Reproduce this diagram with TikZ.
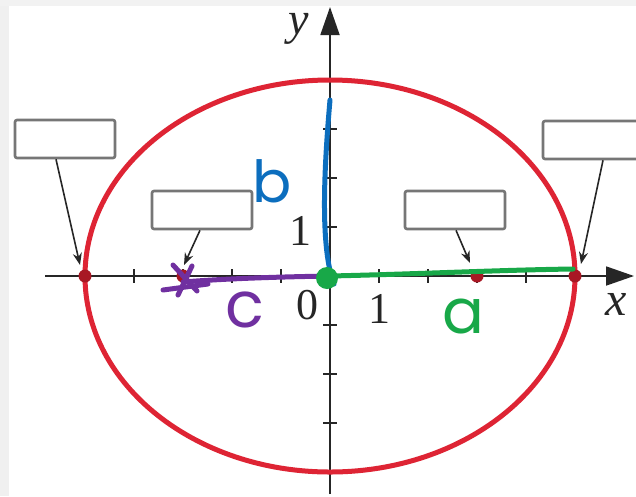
\documentclass[tikz,border=0pt]{standalone}
\usepackage{fontspec}
\setmainfont{Liberation Serif}
\newfontfamily\handfont{Poppins}
\usetikzlibrary{arrows.meta}
\definecolor{ellred}{RGB}{222,36,52}
\definecolor{dotred}{RGB}{168,24,36}
\definecolor{hblue}{RGB}{12,110,190}
\definecolor{hgreen}{RGB}{24,168,72}
\definecolor{hpurple}{RGB}{112,48,160}
\definecolor{boxgray}{RGB}{118,118,118}
\definecolor{axgray}{RGB}{38,38,38}
\tikzset{
 axisline/.style={draw=axgray, line width=1.8pt, -{Triangle[length=28pt,width=19pt]}},
 tickline/.style={draw=axgray, line width=1.8pt},
 lbl/.style={font=\fontsize{44}{44}\selectfont, inner sep=0pt, text=axgray},
 emptybox/.style={draw=boxgray, line width=2.6pt, fill=white, rounded corners=2pt, minimum width=100pt, minimum height=38pt, inner sep=0pt},
 pointer/.style={draw=axgray, line width=1.6pt, -{Stealth[length=12pt,width=9pt]}},
 vtx/.style={circle, fill=dotred, inner sep=0pt, minimum size=13pt},
 handline/.style={line width=5pt, line cap=round, line join=round},
 handtext/.style={font=\handfont\fontsize{#1}{#1}\selectfont, inner sep=0pt},
}
\begin{document}
\begin{tikzpicture}[x=1pt,y=-1pt]
\useasboundingbox (0,0) rectangle (636,496);
\clip (0,0) rectangle (636,496);
\fill[white] (0,0) rectangle (636,496);
\fill[black!6] (0,0) rectangle (9,496);
\fill[black!5] (0,0) rectangle (636,6);
% axes
\coordinate (O) at (330,276);
\coordinate (xl) at (45,276);
\coordinate (xr) at (634,276);
\coordinate (yb) at (330,494);
\coordinate (yt) at (330,7);
\draw[axisline] (xl) -- (xr);
\draw[axisline] (yb) -- (yt);
\foreach \k in {-4,-3,-2,-1,1,2,3,4} {
  \draw[tickline] (330+49*\k,269) -- (330+49*\k,283);
  \draw[tickline] (323,276+49*\k) -- (337,276+49*\k);
}
% ellipse
\draw[ellred, line width=5pt] (O) ellipse [x radius=245, y radius=196];
% vertices and foci
\node[vtx] (v1) at (85,276) {};
\node[vtx] (f1) at (183,276) {};
\node[vtx] (f2) at (477,276) {};
\node[vtx] (v2) at (575,276) {};
% labels
\node[lbl, font=\itshape\fontsize{46}{46}\selectfont] (ylab) at (299,29) {y};
\node[lbl, font=\itshape\fontsize{48}{48}\selectfont] (xlab) at (616,304) {x};
\node[lbl] (zero) at (307,305) {0};
\node[lbl] (onex) at (379,309) {1};
\node[lbl] (oney) at (300,231) {1};
% boxes
\node[emptybox] (A) at (65,139) {};
\node[emptybox] (B) at (202,210) {};
\node[emptybox] (C) at (455,210) {};
\node[emptybox] (D) at (593,140) {};
\coordinate (ta) at (80,265);
\coordinate (tb) at (184,265);
\coordinate (tc) at (470,263);
\coordinate (td) at (581,264);
\draw[pointer] ([xshift=-9pt]A.south) -- (ta);
\draw[pointer] ([xshift=-2pt]B.south) -- (tb);
\draw[pointer] ([xshift=1pt]C.south) -- (tc);
\draw[pointer] ([xshift=10pt]D.south) -- (td);
% handwriting
\coordinate (bt) at (330,100);
\coordinate (bb) at (334,284);
\coordinate (ae) at (573,269);
\coordinate (st) at (183,282);
\draw[handline, hblue] (bt) .. controls (323,180) and (321,250) .. (bb);
\draw[handline, hgreen] (O) .. controls (420,274) and (500,270) .. (ae);
\draw[handline, hpurple] (O) .. controls (270,277) and (220,279) .. (st);
\draw[handline, hpurple] (163,290) -- (208,284);
\draw[handline, hpurple] (173,265) -- (197,291);
\draw[handline, hpurple] (192,266) -- (178,295);
\fill[hgreen] (327,278) circle [radius=11];
\node[handtext=58, text=hblue] (blab) at (272,181) {b};
\node[handtext=64, text=hpurple] (clab) at (245,310) {c};
\node[handtext=62, text=hgreen] (alab) at (463,317) {a};
\end{tikzpicture}
\end{document}
